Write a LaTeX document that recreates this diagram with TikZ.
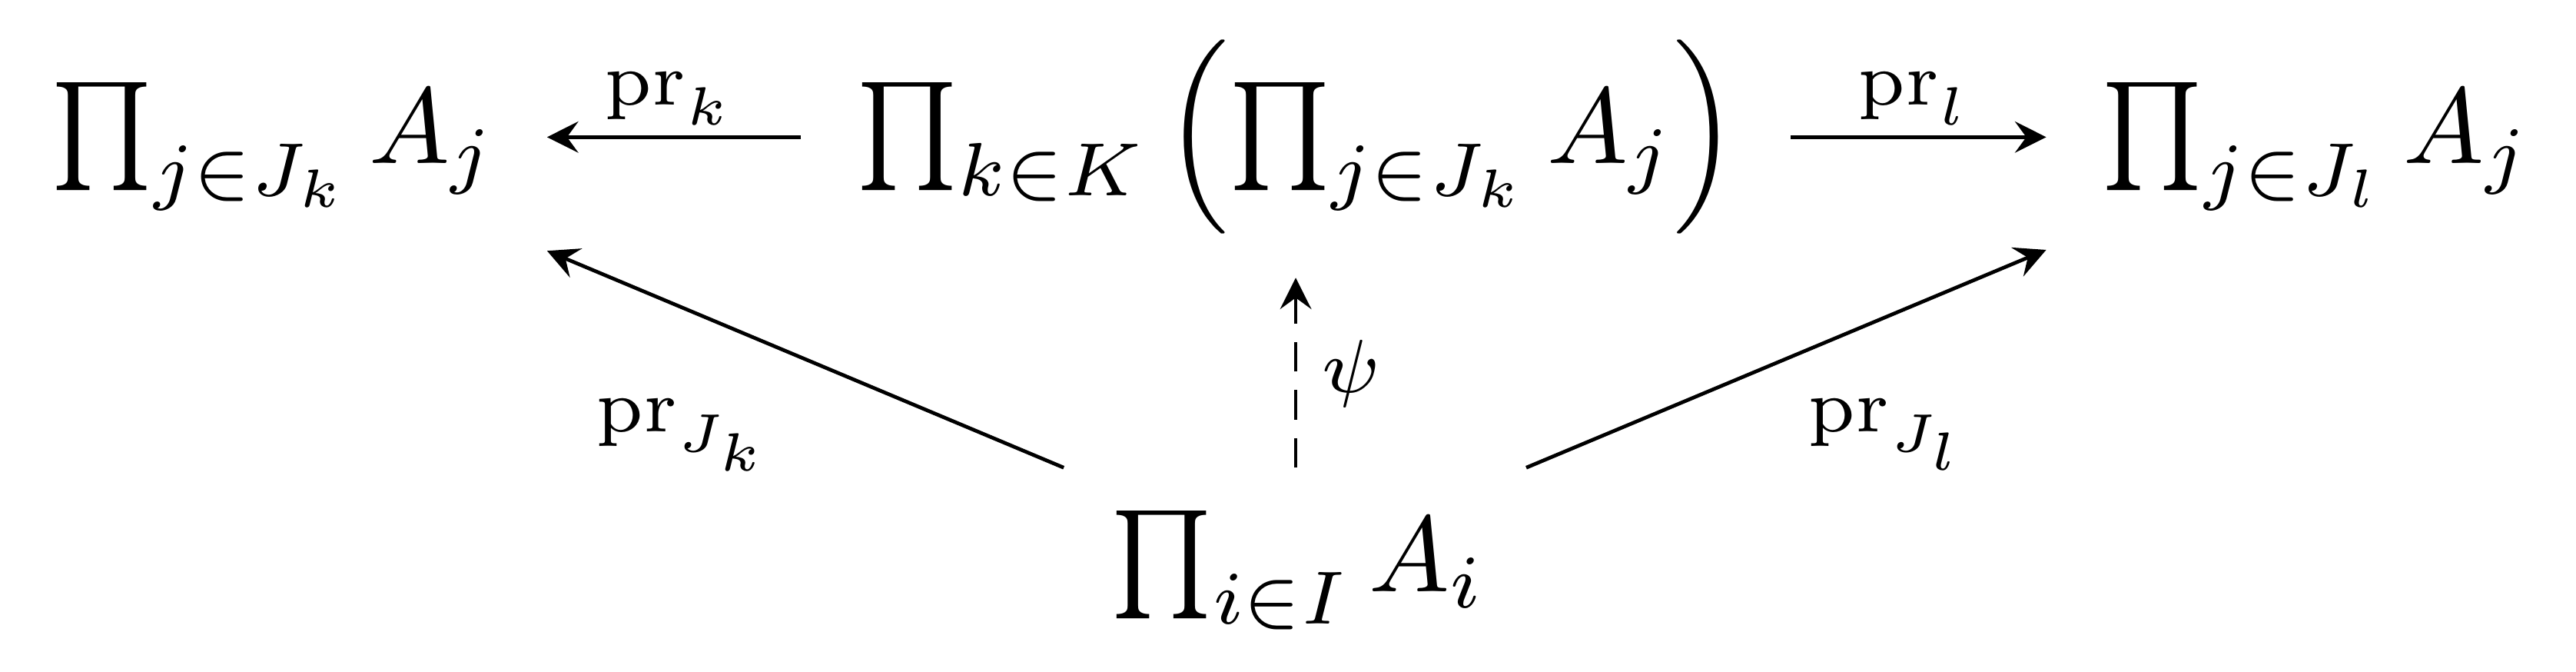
\documentclass[tikz,border=0pt]{standalone}
\usetikzlibrary{arrows.meta}
\begin{document}
\begin{tikzpicture}[x=0.1525pt, y=-0.1525pt,
  obj/.style={inner sep=0pt, anchor=base west},
  map/.style={-{Stealth[length=2.9pt,width=2.9pt,inset=1.05pt]}, line width=0.34pt},
  lbl/.style={inner sep=0pt, anchor=base},
  dashmap/.style={map, dash pattern=on 2.75pt off 1.7pt}]
\useasboundingbox (0,0) rectangle (1568,408.4);
\node[obj] (L) at (30,99.5) {$\prod_{j\in J_k} A_j$};
\node[obj] (M) at (520,99.5) {$\prod_{k\in K}\left(\prod_{j\in J_k} A_j\right)$};
\node[obj] (R) at (1278,99.5) {$\prod_{j\in J_l} A_j$};
\node[obj] (B) at (675,359.8) {$\prod_{i\in I} A_i$};
\draw[map] ([shift={(-32.5,-16.1)}]M.base west) -- node[lbl, shift={(-3.25,-19.8)}] {$\scriptstyle\mathrm{pr}_k$} ([shift={(303,-16.1)}]L.base west);
\draw[map] ([shift={(570,-16.1)}]M.base west) -- node[lbl, shift={(-2.75,-19.8)}] {$\scriptstyle\mathrm{pr}_l$} ([shift={(-32.5,-16.1)}]R.base west);
\draw[map] ([shift={(-27.5,-75.3)}]B.base west) -- node[lbl, shift={(-74.25,44.05)}] {$\scriptstyle\mathrm{pr}_{J_k}$} ([shift={(303,53.1)}]L.base west);
\draw[map] ([shift={(254,-75.3)}]B.base west) -- node[lbl, shift={(61.75,44.25)}] {$\scriptstyle\mathrm{pr}_{J_l}$} ([shift={(-32.5,52.5)}]R.base west);
\draw[dashmap] ([shift={(113.7,-75.3)}]B.base west) -- node[inner sep=0pt, anchor=center, shift={(33.8,0.65)}] {$\scriptstyle\psi$} ([shift={(268.7,69.5)}]M.base west);
\end{tikzpicture}
\end{document}
